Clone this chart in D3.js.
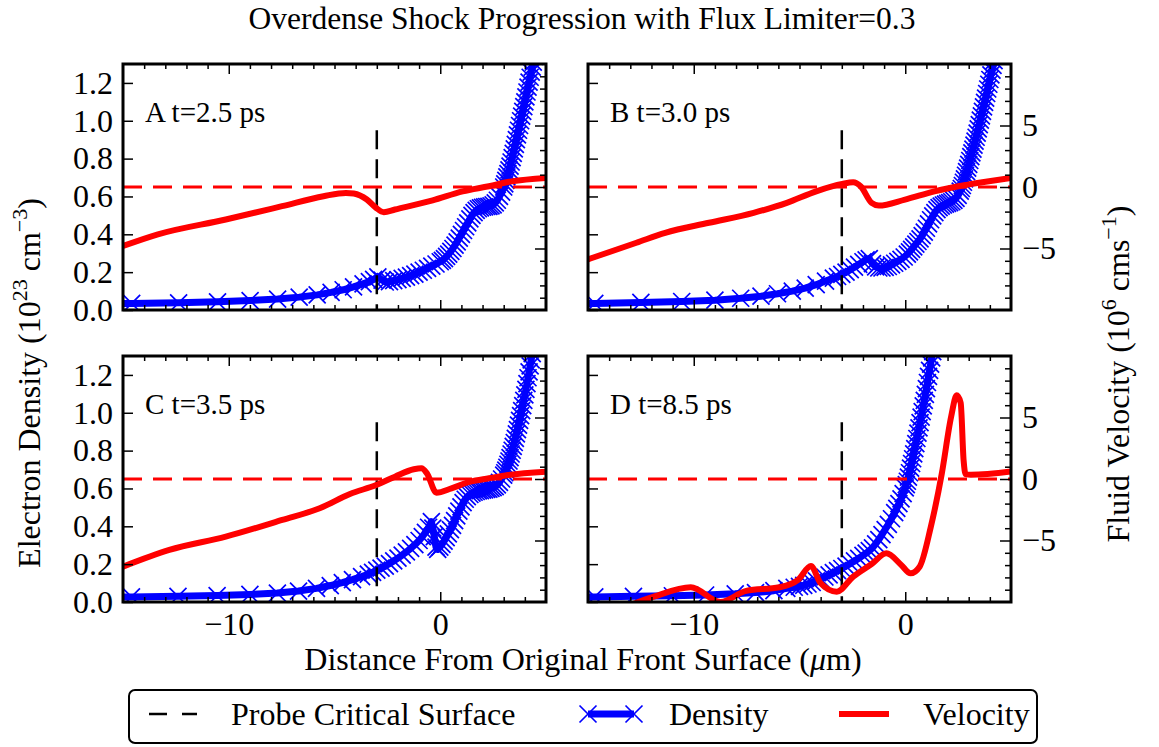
<!DOCTYPE html>
<html><head><meta charset="utf-8">
<script src="https://cdn.jsdelivr.net/npm/d3@7"></script>
<style>body{margin:0;background:#fff}</style>
</head><body>
<svg id="chart" width="1159" height="747"></svg>
<script>
// ---------- data ----------
const titleText = "Overdense Shock Progression with Flux Limiter=0.3";
const panelLabels = ["A t=2.5 ps", "B t=3.0 ps", "C t=3.5 ps", "D t=8.5 ps"];
const xDomain = [-15, 5];
const densDomain = [0, 1.3];
const velDomain = [-10, 10];
const xMajorTicks = [-10, 0];
const xMinorTicks = d3.range(-14, 5, 1);
const densTicks = [0.0, 0.2, 0.4, 0.6, 0.8, 1.0, 1.2];
const velMajorTicks = [-5, 0, 5];
const velMinorTicks = d3.range(-9, 10, 1);
const probeX = -3, probeTop = 0.95;
const legendLabels = ["Probe Critical Surface", "Density", "Velocity"];

// density (x in µm, n_e in 1e23 cm^-3)
const densA = [[-15.5,0.035],[-14.59,0.035],[-12.37,0.038],[-10.53,0.043],[-8.99,0.05],[-7.69,0.058],[-6.67,0.068],[-5.82,0.08],[-5.16,0.093],[-4.59,0.107],[-4.10,0.122],[-3.65,0.138],[-3.35,0.15],[-3.15,0.162],[-2.95,0.175],[-2.75,0.158],[-2.6,0.148],[-2.4,0.15],[-2.2,0.155],[-2.0,0.16],[-1.8,0.167],[-1.6,0.174],[-1.4,0.182],[-1.2,0.19],[-1.0,0.2],[-0.8,0.21],[-0.6,0.22],[-0.4,0.232],[-0.2,0.243],[0.0,0.255],[0.1,0.262],[0.2,0.272],[0.3,0.283],[0.4,0.295],[0.5,0.31],[0.6,0.325],[0.7,0.343],[0.8,0.36],[0.9,0.38],[1.0,0.4],[1.1,0.42],[1.2,0.44],[1.3,0.46],[1.4,0.482],[1.5,0.5],[1.6,0.515],[1.7,0.527],[1.8,0.535],[1.9,0.54],[2.0,0.543],[2.1,0.545],[2.2,0.547],[2.3,0.548],[2.4,0.55],[2.5,0.556],[2.6,0.566],[2.7,0.58],[2.8,0.6],[2.9,0.623],[3.0,0.65],[3.05,0.667],[3.1,0.685],[3.15,0.703],[3.2,0.721],[3.25,0.74],[3.3,0.76],[3.35,0.782],[3.4,0.805],[3.45,0.828],[3.5,0.851],[3.55,0.875],[3.6,0.9],[3.65,0.925],[3.7,0.95],[3.75,0.975],[3.8,1.0],[3.85,1.025],[3.9,1.05],[3.95,1.075],[4.0,1.1],[4.05,1.126],[4.1,1.152],[4.15,1.178],[4.2,1.204],[4.25,1.23],[4.3,1.257],[4.35,1.284],[4.4,1.31],[4.45,1.34]];
const densB = [[-15.5,0.034],[-14.68,0.035],[-12.5,0.04],[-10.57,0.045],[-9.0,0.052],[-7.78,0.062],[-6.82,0.073],[-6.04,0.086],[-5.34,0.1],[-4.73,0.116],[-4.21,0.134],[-3.77,0.153],[-3.4,0.168],[-3.2,0.177],[-3.0,0.188],[-2.8,0.2],[-2.6,0.213],[-2.4,0.227],[-2.2,0.241],[-2.0,0.255],[-1.85,0.265],[-1.7,0.272],[-1.55,0.245],[-1.4,0.228],[-1.25,0.222],[-1.1,0.222],[-0.95,0.225],[-0.8,0.23],[-0.65,0.238],[-0.5,0.247],[-0.35,0.257],[-0.2,0.268],[-0.05,0.28],[0.1,0.295],[0.2,0.307],[0.3,0.32],[0.4,0.334],[0.5,0.348],[0.6,0.362],[0.7,0.376],[0.8,0.393],[0.9,0.412],[1.0,0.432],[1.1,0.455],[1.2,0.477],[1.3,0.497],[1.4,0.515],[1.5,0.53],[1.6,0.541],[1.7,0.549],[1.8,0.555],[1.9,0.559],[2.0,0.563],[2.1,0.567],[2.2,0.572],[2.3,0.579],[2.4,0.59],[2.5,0.606],[2.6,0.628],[2.65,0.642],[2.7,0.658],[2.75,0.675],[2.8,0.693],[2.85,0.712],[2.9,0.731],[2.95,0.75],[3.0,0.77],[3.05,0.79],[3.1,0.81],[3.15,0.83],[3.2,0.85],[3.25,0.871],[3.3,0.892],[3.35,0.913],[3.4,0.935],[3.45,0.957],[3.5,0.98],[3.55,1.003],[3.6,1.026],[3.65,1.05],[3.7,1.073],[3.75,1.097],[3.8,1.12],[3.85,1.144],[3.9,1.168],[3.95,1.193],[4.0,1.218],[4.05,1.243],[4.1,1.268],[4.15,1.293],[4.2,1.318],[4.25,1.344]];
const densC = [[-15.5,0.026],[-14.6,0.027],[-12.4,0.03],[-10.55,0.034],[-9.0,0.04],[-7.7,0.047],[-6.7,0.058],[-5.85,0.072],[-5.2,0.087],[-4.63,0.102],[-4.15,0.118],[-3.72,0.134],[-3.4,0.147],[-3.2,0.157],[-3.0,0.168],[-2.8,0.179],[-2.6,0.19],[-2.4,0.203],[-2.2,0.217],[-2.0,0.232],[-1.8,0.248],[-1.6,0.265],[-1.4,0.283],[-1.2,0.303],[-1.0,0.325],[-0.85,0.345],[-0.7,0.368],[-0.55,0.395],[-0.42,0.425],[-0.35,0.39],[-0.28,0.345],[-0.2,0.29],[-0.12,0.278],[-0.02,0.29],[0.08,0.305],[0.18,0.322],[0.28,0.34],[0.38,0.36],[0.48,0.382],[0.58,0.405],[0.68,0.43],[0.78,0.455],[0.88,0.48],[0.98,0.503],[1.08,0.525],[1.18,0.543],[1.28,0.557],[1.4,0.568],[1.5,0.575],[1.6,0.58],[1.7,0.584],[1.8,0.587],[1.9,0.589],[2.0,0.591],[2.1,0.593],[2.2,0.595],[2.3,0.597],[2.4,0.6],[2.5,0.604],[2.6,0.61],[2.7,0.619],[2.8,0.632],[2.9,0.65],[3.0,0.67],[3.05,0.683],[3.1,0.697],[3.15,0.712],[3.2,0.728],[3.25,0.745],[3.3,0.763],[3.35,0.782],[3.4,0.802],[3.45,0.822],[3.5,0.843],[3.55,0.865],[3.6,0.888],[3.65,0.911],[3.7,0.935],[3.75,0.96],[3.8,0.985],[3.85,1.011],[3.9,1.038],[3.95,1.066],[4.0,1.095],[4.05,1.124],[4.1,1.154],[4.15,1.185],[4.2,1.216],[4.25,1.248],[4.3,1.28],[4.35,1.313],[4.4,1.346]];
const densD = [[-15.5,0.026],[-14.68,0.027],[-12.85,0.03],[-11.01,0.033],[-9.44,0.037],[-8.04,0.043],[-7.08,0.05],[-6.21,0.06],[-5.6,0.072],[-5.25,0.078],[-5.0,0.083],[-4.8,0.088],[-4.6,0.095],[-4.4,0.103],[-4.2,0.112],[-4.0,0.122],[-3.8,0.132],[-3.6,0.143],[-3.4,0.155],[-3.2,0.166],[-3.0,0.177],[-2.8,0.19],[-2.6,0.203],[-2.4,0.217],[-2.2,0.231],[-2.0,0.246],[-1.85,0.258],[-1.7,0.271],[-1.55,0.286],[-1.4,0.307],[-1.25,0.33],[-1.1,0.356],[-0.95,0.383],[-0.8,0.41],[-0.65,0.44],[-0.5,0.472],[-0.4,0.495],[-0.3,0.52],[-0.2,0.545],[-0.1,0.573],[0.0,0.603],[0.05,0.62],[0.1,0.638],[0.15,0.66],[0.2,0.683],[0.25,0.707],[0.3,0.732],[0.35,0.757],[0.4,0.783],[0.45,0.81],[0.5,0.837],[0.55,0.864],[0.6,0.892],[0.65,0.92],[0.7,0.948],[0.75,0.977],[0.8,1.006],[0.85,1.036],[0.9,1.066],[0.95,1.097],[1.0,1.128],[1.05,1.16],[1.1,1.192],[1.15,1.224],[1.2,1.257],[1.25,1.29],[1.3,1.323],[1.35,1.356]];

// fluid velocity (x in µm, v in 1e6 cm/s)
const velA = [[-15,-4.8],[-13.35,-3.85],[-10.14,-2.64],[-7.48,-1.56],[-5.52,-0.75],[-4.46,-0.48],[-4.09,-0.53],[-3.47,-1.02],[-3.04,-1.69],[-2.67,-2.05],[-2.14,-1.83],[-0.36,-1.08],[1.06,-0.35],[2.30,0.06],[3.38,0.46],[5.0,0.74]];
const velB = [[-15,-5.88],[-12.71,-4.53],[-11.35,-3.72],[-9.28,-2.91],[-7.17,-2.10],[-5.60,-1.29],[-4.21,-0.35],[-2.98,0.25],[-2.46,0.38],[-2.11,0.06],[-1.59,-1.29],[-1.25,-1.51],[-0.01,-1.02],[1.38,-0.35],[2.95,0.19],[5.0,0.74]];
const velC = [[-15,-7.13],[-12.81,-5.77],[-10.14,-4.69],[-7.47,-3.33],[-5.7,-2.38],[-4.27,-1.22],[-3.03,-0.49],[-2.14,0.19],[-1.25,0.79],[-0.89,0.87],[-0.63,0.46],[-0.18,-1.11],[0.53,-0.76],[1.42,-0.22],[2.3,0.06],[3.2,0.33],[5.0,0.6]];
const velD = [[-13.5,-10.6],[-11.89,-9.57],[-10.14,-8.8],[-8.74,-10.0],[-7.52,-9.1],[-5.95,-8.8],[-5.07,-8.2],[-4.46,-7.07],[-4.02,-8.43],[-3.24,-9.16],[-2.46,-7.94],[-1.59,-6.91],[-0.89,-6.04],[-0.19,-6.99],[0.25,-7.67],[0.68,-7.13],[1.21,-3.88],[1.73,0.46],[2.17,5.07],[2.43,6.8],[2.62,6.2],[2.76,1.5],[2.85,0.4],[3.1,0.35],[5.0,0.62]];

// ---------- layout ----------
const W = 1159, H = 747;
const PW = 423, PH = 246;
const FONT = "'Liberation Serif','Times New Roman',Times,serif";
const panels = [
  {left:123, top:64,  dens:densA, vel:velA, label:panelLabels[0], xLab:false, vLab:false},
  {left:588, top:64,  dens:densB, vel:velB, label:panelLabels[1], xLab:false, vLab:true},
  {left:123, top:356, dens:densC, vel:velC, label:panelLabels[2], xLab:true,  vLab:false},
  {left:588, top:356, dens:densD, vel:velD, label:panelLabels[3], xLab:true,  vLab:true}
];
const BLUE = "#0000ff", RED = "#ff0000";
const xMarker = "M-8.5,-8.5L8.5,8.5M-8.5,8.5L8.5,-8.5";

const svg = d3.select("#chart");
svg.append("rect").attr("width", W).attr("height", H).attr("fill", "#fff");

const fmtX = d3.format("d");
const fmtD = d3.format(".1f");

function styleAxis(g){
  g.select(".domain").remove();
  g.selectAll(".tick line").attr("stroke", "#000").attr("stroke-width", 1.5);
  g.selectAll(".tick text").attr("font-family", FONT).attr("font-size", 32).attr("fill", "#000");
}

panels.forEach((p, i) => {
  const x = d3.scaleLinear().domain(xDomain).range([p.left, p.left + PW]);
  const yD = d3.scaleLinear().domain(densDomain).range([p.top + PH, p.top]);
  const yV = d3.scaleLinear().domain(velDomain).range([p.top + PH, p.top]);

  const clipId = "clip" + i;
  svg.append("clipPath").attr("id", clipId).append("rect")
    .attr("x", p.left).attr("y", p.top).attr("width", PW).attr("height", PH);
  const g = svg.append("g").attr("clip-path", `url(#${clipId})`);

  // density line + x markers
  g.append("path").datum(p.dens)
    .attr("d", d3.line().x(d => x(d[0])).y(d => yD(d[1])))
    .attr("fill", "none").attr("stroke", BLUE).attr("stroke-width", 7)
    .attr("stroke-linejoin", "round");
  g.selectAll(".mk").data(p.dens).join("path").attr("class", "mk")
    .attr("transform", d => `translate(${x(d[0])},${yD(d[1])})`)
    .attr("d", xMarker).attr("fill", "none").attr("stroke", BLUE).attr("stroke-width", 1.7);

  // probe critical surface
  g.append("line")
    .attr("x1", x(probeX)).attr("x2", x(probeX))
    .attr("y1", yD(probeTop)).attr("y2", yD(0))
    .attr("stroke", "#000").attr("stroke-width", 2.5).attr("stroke-dasharray", "19,10");

  // zero velocity
  g.append("line")
    .attr("x1", x(xDomain[0])).attr("x2", x(xDomain[1]))
    .attr("y1", yV(0)).attr("y2", yV(0))
    .attr("stroke", RED).attr("stroke-width", 3).attr("stroke-dasharray", "19,11");

  // velocity
  g.append("path").datum(p.vel)
    .attr("d", d3.line().curve(d3.curveMonotoneX).x(d => x(d[0])).y(d => yV(d[1])))
    .attr("fill", "none").attr("stroke", RED).attr("stroke-width", 6)
    .attr("stroke-linejoin", "round");

  // axes
  const gb = svg.append("g").attr("transform", `translate(0,${p.top + PH})`)
    .call(d3.axisBottom(x).tickValues(xMajorTicks).tickSizeInner(-10).tickSizeOuter(0).tickPadding(10)
      .tickFormat(p.xLab ? fmtX : ""));
  styleAxis(gb);
  const gbm = svg.append("g").attr("transform", `translate(0,${p.top + PH})`)
    .call(d3.axisBottom(x).tickValues(xMinorTicks.filter(v => !xMajorTicks.includes(v))).tickSizeInner(-5).tickSizeOuter(0).tickFormat(""));
  styleAxis(gbm);
  const gt = svg.append("g").attr("transform", `translate(0,${p.top})`)
    .call(d3.axisTop(x).tickValues(xMajorTicks).tickSizeInner(-10).tickSizeOuter(0).tickFormat(""));
  styleAxis(gt);
  const gtm = svg.append("g").attr("transform", `translate(0,${p.top})`)
    .call(d3.axisTop(x).tickValues(xMinorTicks.filter(v => !xMajorTicks.includes(v))).tickSizeInner(-5).tickSizeOuter(0).tickFormat(""));
  styleAxis(gtm);

  const gl = svg.append("g").attr("transform", `translate(${p.left},0)`)
    .call(d3.axisLeft(yD).tickValues(densTicks).tickSizeInner(-10).tickSizeOuter(0).tickPadding(10)
      .tickFormat(p.left < 300 ? fmtD : ""));
  styleAxis(gl);

  const gr = svg.append("g").attr("transform", `translate(${p.left + PW},0)`)
    .call(d3.axisRight(yV).tickValues(velMajorTicks).tickSizeInner(-11).tickSizeOuter(0).tickPadding(11)
      .tickFormat(p.vLab ? fmtX : ""));
  styleAxis(gr);
  const grm = svg.append("g").attr("transform", `translate(${p.left + PW},0)`)
    .call(d3.axisRight(yV).tickValues(velMinorTicks.filter(v => !velMajorTicks.includes(v))).tickSizeInner(-6).tickSizeOuter(0).tickFormat(""));
  styleAxis(grm);

  // frame
  svg.append("rect").attr("x", p.left).attr("y", p.top).attr("width", PW).attr("height", PH)
    .attr("fill", "none").attr("stroke", "#000").attr("stroke-width", 3);

  // panel label
  svg.append("text").attr("x", p.left + 22).attr("y", p.top + 58)
    .attr("font-family", FONT).attr("font-size", 29).text(p.label);
});

// title
svg.append("text").attr("x", 582).attr("y", 29).attr("text-anchor", "middle")
  .attr("font-family", FONT).attr("font-size", 31.5).text(titleText);

// x label
const xl = svg.append("text").attr("x", 583).attr("y", 670).attr("text-anchor", "middle")
  .attr("font-family", FONT).attr("font-size", 32);
xl.append("tspan").text("Distance From Original Front Surface (");
xl.append("tspan").attr("font-style", "italic").text("μ");
xl.append("tspan").text("m)");

// left y label
const yl = svg.append("text").attr("transform", "translate(40,383) rotate(-90)")
  .attr("text-anchor", "middle").attr("font-family", FONT).attr("font-size", 32);
yl.append("tspan").text("Electron Density (10");
yl.append("tspan").attr("dy", -13).attr("font-size", 22).text("23");
yl.append("tspan").attr("dy", 13).text(" cm");
yl.append("tspan").attr("dy", -13).attr("font-size", 22).text("−3");
yl.append("tspan").attr("dy", 13).text(")");

// right y label
const yr = svg.append("text").attr("transform", "translate(1129,374) rotate(-90)")
  .attr("text-anchor", "middle").attr("font-family", FONT).attr("font-size", 32);
yr.append("tspan").text("Fluid Velocity (10");
yr.append("tspan").attr("dy", -13).attr("font-size", 22).text("6");
yr.append("tspan").attr("dy", 13).text(" cms");
yr.append("tspan").attr("dy", -13).attr("font-size", 22).text("−1");
yr.append("tspan").attr("dy", 13).text(")");

// legend
const lg = svg.append("g");
lg.append("rect").attr("x", 129).attr("y", 690).attr("width", 908).attr("height", 53)
  .attr("rx", 6).attr("fill", "#fff").attr("stroke", "#000").attr("stroke-width", 2);
const ly = 714, lty = 725;
lg.append("line").attr("x1", 149).attr("x2", 197).attr("y1", ly).attr("y2", ly)
  .attr("stroke", "#000").attr("stroke-width", 2.5).attr("stroke-dasharray", "18,15");
lg.append("text").attr("x", 231).attr("y", lty).attr("font-family", FONT).attr("font-size", 32).text(legendLabels[0]);
lg.append("line").attr("x1", 588).attr("x2", 634).attr("y1", ly).attr("y2", ly)
  .attr("stroke", BLUE).attr("stroke-width", 7);
[588, 634].forEach(cx => lg.append("path").attr("transform", `translate(${cx},${ly})`)
  .attr("d", xMarker).attr("fill", "none").attr("stroke", BLUE).attr("stroke-width", 1.7));
lg.append("text").attr("x", 669).attr("y", lty).attr("font-family", FONT).attr("font-size", 32).text(legendLabels[1]);
lg.append("line").attr("x1", 839).attr("x2", 889).attr("y1", ly).attr("y2", ly)
  .attr("stroke", RED).attr("stroke-width", 6);
lg.append("text").attr("x", 923).attr("y", lty).attr("font-family", FONT).attr("font-size", 32).text(legendLabels[2]);
</script>
</body></html>
